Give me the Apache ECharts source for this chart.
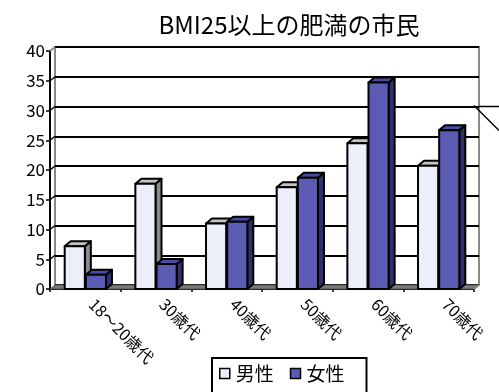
<!DOCTYPE html>
<html><head><meta charset="utf-8">
<script src="https://cdn.jsdelivr.net/npm/echarts@6/dist/echarts.min.js"></script>
<style>html,body{margin:0;padding:0;background:#fff}#c{width:499px;height:392px}</style>
</head><body><div id="c"></div>
<script>
const categories = ['18～20歳代','30歳代','40歳代','50歳代','60歳代','70歳代'];
const maleValues = [7.2, 17.7, 11.0, 17.1, 24.5, 20.7];
const femaleValues = [2.4, 4.2, 11.3, 18.7, 34.7, 26.7];
const seriesNames = ['男性','女性'];
const titleText = 'BMI25以上の肥満の市民';
const yTicks = [0,5,10,15,20,25,30,35,40];

const FONT = '"Noto Sans CJK JP", "Noto Sans", sans-serif';
const DX = 6, DY = -5; // bar depth
const WX = 5, WY = -4; // wall depth
const colors = {
  male: {front:'#eceef9', top:'#c4c4c4', side:'#8c8c8c'},
  female: {front:'#5b5bb3', top:'#4a4aa2', side:'#303070'}
};

function barRender(isMale){
  const c = isMale ? colors.male : colors.female;
  return function(params, api){
    const ci = api.value(0), v = api.value(1);
    const top = api.coord([ci, v]);
    const base = api.coord([ci, 0]);
    const bw = api.size([1,0])[0];
    const w = bw * 0.285;
    const x0 = isMale ? top[0] - w - 0.5 : top[0] + 0.5;
    const x1 = x0 + w;
    const yT = top[1], yB = base[1];
    const st = {stroke:'#000', lineWidth:2, lineJoin:'round'};
    return {type:'group', children:[
      {type:'polygon', shape:{points:[[x1,yB],[x1+DX,yB+DY],[x1+DX,yT+DY],[x1,yT]]}, style:Object.assign({fill:c.side}, st)},
      {type:'polygon', shape:{points:[[x0,yT],[x0+DX,yT+DY],[x1+DX,yT+DY],[x1,yT]]}, style:Object.assign({fill:c.top}, st)},
      {type:'rect', shape:{x:x0, y:yT, width:w, height:yB-yT}, style:Object.assign({fill:c.front}, st)}
    ]};
  };
}

const chart = echarts.init(document.getElementById('c'), null, {renderer:'canvas'});
const option = {
  animation:false,
  backgroundColor:'#fff',
  textStyle:{fontFamily:FONT},
  title:{text:titleText, left:284, textAlign:'center', top:8,
    textStyle:{fontFamily:FONT, fontSize:24, fontWeight:'normal', color:'#000'}},
  legend:{data:seriesNames, left:212, top:358, orient:'horizontal',
    itemWidth:10, itemHeight:10, itemGap:16, padding:[6,22,14,7],
    borderColor:'#000', borderWidth:2, icon:'rect',
    textStyle:{fontFamily:FONT, fontSize:19, color:'#000', padding:[0,0,0,1]},
    itemStyle:{borderColor:'#000', borderWidth:1.5}},
  grid:[
    {left:50, right:25, top:51, bottom:103},
    {left:55, right:20, top:47, bottom:107, show:true, borderColor:'#8a8a8a', borderWidth:2, backgroundColor:'transparent'}
  ],
  xAxis:[
    {type:'category', gridIndex:0, data:categories, boundaryGap:true,
      axisLine:{show:true, lineStyle:{color:'#000', width:2}},
      axisTick:{show:true, length:3, lineStyle:{color:'#000', width:1.5}},
      axisLabel:{rotate:-45, margin:6, padding:[0,0,0,9], fontFamily:FONT, fontSize:16, color:'#000', interval:0}},
    {type:'category', gridIndex:1, data:categories, show:false}
  ],
  yAxis:[
    {type:'value', gridIndex:0, min:0, max:40, interval:5,
      axisLine:{show:true, lineStyle:{color:'#000', width:2}},
      axisTick:{show:true, length:4, lineStyle:{color:'#000', width:1.5}},
      splitLine:{show:false},
      axisLabel:{margin:5, fontFamily:FONT, fontSize:17, color:'#000'}},
    {type:'value', gridIndex:1, min:0, max:40, interval:5,
      axisLine:{show:false}, axisTick:{show:false}, axisLabel:{show:false},
      splitLine:{show:true, lineStyle:{color:'#000', width:2}}}
  ],
  series:[
    {name:seriesNames[0], type:'custom', xAxisIndex:0, yAxisIndex:0, z:3,
      renderItem:barRender(true), itemStyle:{color:colors.male.front, borderColor:'#000', borderWidth:1.5},
      encode:{x:0, y:1}, data:maleValues.map((v,i)=>[i,v])},
    {name:seriesNames[1], type:'custom', xAxisIndex:0, yAxisIndex:0, z:4,
      renderItem:barRender(false), itemStyle:{color:colors.female.front, borderColor:'#000', borderWidth:1.5},
      encode:{x:0, y:1}, data:femaleValues.map((v,i)=>[i,v])}
  ]
};
chart.setOption(option);

// walls / floor from the axes' own scales
const g = [];
const yf0 = chart.convertToPixel({yAxisIndex:0}, 0);
const yb0 = chart.convertToPixel({yAxisIndex:1}, 0);
const yfTop = chart.convertToPixel({yAxisIndex:0}, 40);
const ybTop = chart.convertToPixel({yAxisIndex:1}, 40);
const L = 50, R = 474;
g.push({type:'polygon', z:1, shape:{points:[[L,yf0],[R,yf0],[R+WX,yb0],[L+WX,yb0]]}, style:{fill:'#7a7a7a', stroke:'#555', lineWidth:1}});
g.push({type:'line', z:1, shape:{x1:L, y1:yfTop, x2:L+WX, y2:ybTop}, style:{stroke:'#8a8a8a', lineWidth:2}});
g.push({type:'line', z:1, shape:{x1:R, y1:yf0, x2:R+WX, y2:yb0}, style:{stroke:'#8a8a8a', lineWidth:2}});
yTicks.forEach(v=>{
  if (v === 0 || v === 40) return;
  const yf = chart.convertToPixel({yAxisIndex:0}, v);
  const yb = chart.convertToPixel({yAxisIndex:1}, v);
  g.push({type:'line', z:1, shape:{x1:L, y1:yf, x2:L+WX, y2:yb}, style:{stroke:'#000', lineWidth:1.5}});
});
// callout leader line at right edge (cut off in original)
const y30 = chart.convertToPixel({yAxisIndex:1}, 30);
g.push({type:'line', z:1, shape:{x1:R+WX, y1:y30, x2:499, y2:y30}, style:{stroke:'#000', lineWidth:1.5}});
g.push({type:'line', z:1, shape:{x1:R, y1:y30-1, x2:499, y2:y30+24}, style:{stroke:'#000', lineWidth:1.5}});
chart.setOption({graphic:{elements:g}});
</script></body></html>
